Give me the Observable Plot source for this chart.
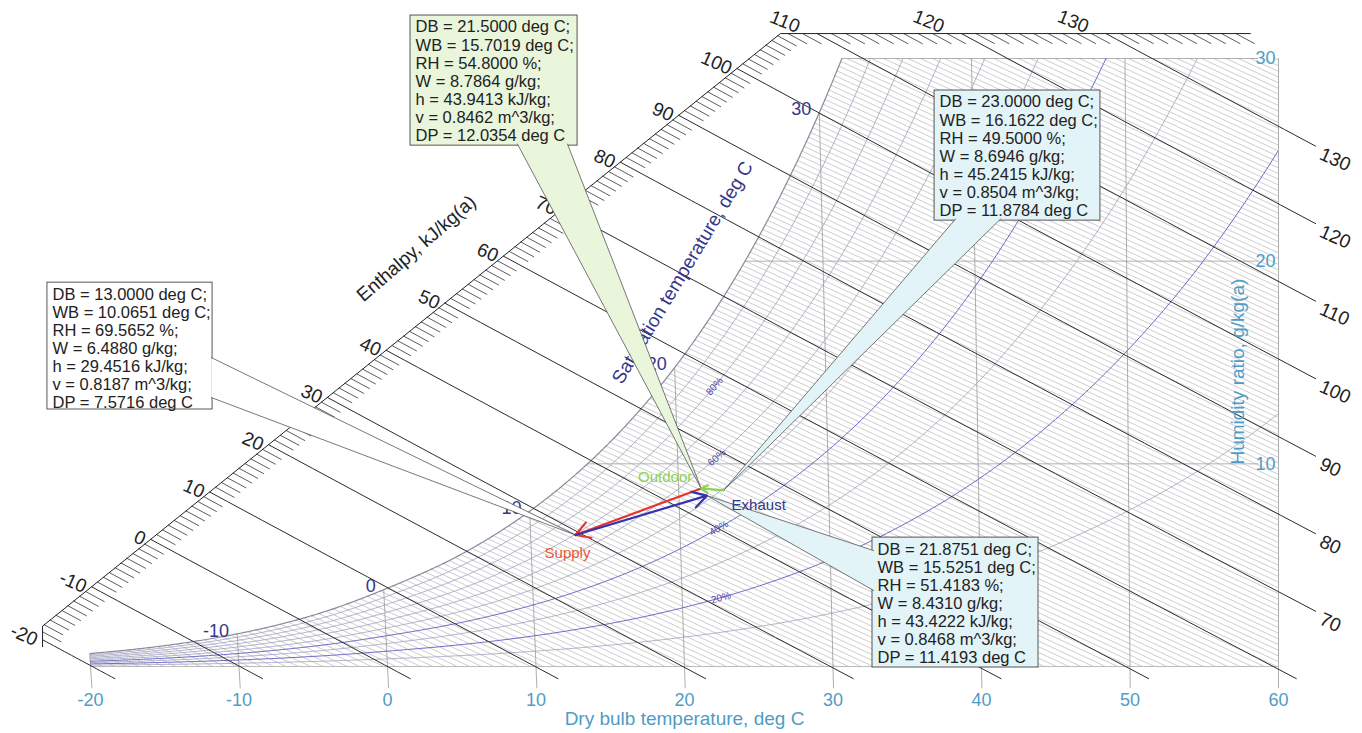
<!DOCTYPE html>
<html><head><meta charset="utf-8">
<script src="https://cdn.jsdelivr.net/npm/d3@7"></script>
<script src="https://cdn.jsdelivr.net/npm/@observablehq/plot@0.6"></script>
<style>html,body{margin:0;padding:0;background:#fff;} #chart svg{display:block}</style>
</head><body><div id="chart"></div>
<script>
// ---------------- data ----------------
const dryBulbTicks = [-20, -10, 0, 10, 20, 30, 40, 50, 60];
const humidityTicks = [10, 20, 30];
const satTemp = [-20, -15, -10, -5, 0, 5, 10, 15, 20, 25, 30, 35, 40, 45, 50, 55, 60];
const satW = [0.64, 1.02, 1.61, 2.49, 3.79, 5.42, 7.66, 10.69, 14.75, 20.17, 27.33, 36.79, 49.14, 65.44, 86.63, 114.53, 152.3];
const satLabelTemps = [-10, 0, 10, 20, 30];
const rhLevels = [10, 20, 30, 40, 50, 60, 70, 80, 90];
const rhLabelLevels = [20, 40, 60, 80];
const enthalpyLines = [-20, -10, 0, 10, 20, 30, 40, 50, 60, 70, 80, 90, 100, 110, 120, 130];
const enthalpyScaleRange = [-20, 140];

const stateNames = ["Outdoor", "Exhaust", "Supply", ""];
const stateDB = [21.5, 23.0, 13.0, 21.8751];
const stateWB = [15.7019, 16.1622, 10.0651, 15.5251];
const stateRH = [54.8, 49.5, 69.5652, 51.4183];
const stateW = [8.7864, 8.6946, 6.4880, 8.4310];
const stateH = [43.9413, 45.2415, 29.4516, 43.4222];
const stateV = [0.8462, 0.8504, 0.8187, 0.8468];
const stateDP = [12.0354, 11.8784, 7.5716, 11.4193];
const processFrom = [0, 2, 1];
const processTo = [2, 3, 0];

// ---------------- chart geometry helpers ----------------
const SKEW = 1 / 891;
const toX = (T, W) => T - W * (60 - T) * SKEW;
const toT = (X, W) => (X + 60 * W * SKEW) / (1 + W * SKEW);
const enth = (T, W) => 1.006 * T + W * (2.501 + 0.00186 * T);
const wAtH = (h, T) => (h - 1.006 * T) / (2.501 + 0.00186 * T);
const lnW = satW.map(Math.log);
function wsat(T) {
  const n = satTemp.length;
  let i = d3.bisectRight(satTemp, T) - 1;
  i = Math.max(0, Math.min(n - 2, i));
  const t0 = satTemp[i], t1 = satTemp[i + 1], dt = t1 - t0, s = (T - t0) / dt;
  const m = k => k <= 0 ? (lnW[1] - lnW[0]) / (satTemp[1] - satTemp[0])
    : k >= n - 1 ? (lnW[n - 1] - lnW[n - 2]) / (satTemp[n - 1] - satTemp[n - 2])
    : (lnW[k + 1] - lnW[k - 1]) / (satTemp[k + 1] - satTemp[k - 1]);
  const h00 = 2 * s ** 3 - 3 * s ** 2 + 1, h10 = s ** 3 - 2 * s ** 2 + s, h01 = -2 * s ** 3 + 3 * s ** 2, h11 = s ** 3 - s ** 2;
  return Math.exp(h00 * lnW[i] + h10 * dt * m(i) + h01 * lnW[i + 1] + h11 * dt * m(i + 1));
}
const wAtRH = (T, rh) => { const ws = wsat(T); const x = ws / (622 + ws); return 622 * (rh / 100) * x / (1 - (rh / 100) * x); };
const bisect = (f, a, b, n = 60) => { for (let k = 0; k < n; k++) { const m = (a + b) / 2; if (f(m) < 0) a = m; else b = m; } return (a + b) / 2; };
const tSatOfW = W => bisect(T => wsat(T) - W, -40, 80);

const teal = "#4f9cc6", navy = "#35358a", FONT = "'Liberation Sans', Arial, sans-serif";

// saturation curve
const satPts = d3.range(-20, 33.01, 0.1).map(T => ({x: toX(T, wsat(T)), y: wsat(T)}));
// RH curves
const rhPts = rhLevels.flatMap(rh => d3.range(-20, 60.01, 0.2).map(T => ({x: toX(T, wAtRH(T, rh)), y: wAtRH(T, rh), rh})));
const rhLabels = rhLabelLevels.map(rh => {
  const T = 22.6, W = wAtRH(T, rh), W1 = wAtRH(T - 0.3, rh), W2 = wAtRH(T + 0.3, rh);
  const dx = (toX(T + 0.3, W2) - toX(T - 0.3, W1)) * 14.85, dy = -(W2 - W1) * 20.27;
  return {x: toX(T, W), y: W, rh, angle: Math.atan2(dy, dx) * 180 / Math.PI};
});
// background hatch texture
const hatch = d3.range(0.28, 60, 0.28).flatMap((c, i) => [{x: -20, y: c, id: i}, {x: 60, y: c - 0.34 * 80, id: i}]);
// dry bulb lines
const dbLines = dryBulbTicks.flatMap(T => { const top = Math.min(wsat(T), 30); return [{x: toX(T, -1.05), y: -1.05, T}, {x: toX(T, top), y: top, T}]; });
// humidity lines
const wLines = humidityTicks.flatMap(W => [{x: toX(tSatOfW(W), W), y: W, W}, {x: 58.6, y: W, W}]);

// enthalpy scale
const scalePoly = [[-23.23, 0.98], [-23.23, 1.99], [26.46, 31.23], [62, 31.23]];
function polyPt(u) { const i = Math.min(scalePoly.length - 2, Math.floor(u)); const f = u - i; const a = scalePoly[i], b = scalePoly[i + 1]; return [a[0] + (b[0] - a[0]) * f, a[1] + (b[1] - a[1]) * f]; }
const hOnPoly = u => { const [X, W] = polyPt(u); return enth(toT(X, W), W); };
const uForH = h => bisect(u => hOnPoly(u) - h, 0, scalePoly.length - 1);
const uEnd = uForH(enthalpyScaleRange[1]);
const scaleLine = scalePoly.filter((p, i) => i <= uEnd).map(p => ({x: p[0], y: p[1]}));
{ const [X, W] = polyPt(uEnd); scaleLine.push({x: X, y: W}); }

const hLineData = enthalpyLines.map(h => {
  const u = uForH(h); const [X0, W0] = polyPt(u); const T0 = toT(X0, W0);
  const g = T => { const W = wAtH(h, T); return Math.max(-0.6 - W, toX(T, W) - 62.5); };
  const T1 = bisect(g, T0, 140);
  const pts = d3.range(0, 21).map(k => { const T = T0 + (T1 - T0) * k / 20; const W = wAtH(h, T); return {x: toX(T, W), y: W, h}; });
  const end = pts[pts.length - 1];
  return {h, u, start: {x: X0, y: W0}, pts, end, right: end.x > 62.4};
});
const hLinePts = hLineData.flatMap(d => d.pts);
const hTicks = d3.range(enthalpyScaleRange[0] + 1, enthalpyScaleRange[1]).filter(h => !enthalpyLines.includes(h)).flatMap(h => {
  const u = uForH(h); const [X0, W0] = polyPt(u); const T0 = toT(X0, W0), T1 = T0 + 1.2, W1 = wAtH(h, T1);
  return [{x: X0, y: W0, h}, {x: toX(T1, W1), y: W1, h}];
});

// states
const states = stateDB.map((T, i) => ({i, name: stateNames[i], x: toX(T, stateW[i]), y: stateW[i]}));
const stateText = i => [
  `DB = ${stateDB[i].toFixed(4)} deg C;`, `WB = ${stateWB[i].toFixed(4)} deg C;`, `RH = ${stateRH[i].toFixed(4)} %;`,
  `W = ${stateW[i].toFixed(4)} g/kg;`, `h = ${stateH[i].toFixed(4)} kJ/kg;`, `v = ${stateV[i].toFixed(4)} m^3/kg;`, `DP = ${stateDP[i].toFixed(4)} deg C`
].join("\n");

// callout layout (data coordinates)
const callouts = [
  {state: 0, box: [1.55, 12.80, 32.12, 25.70], fill: "#eaf6dc", base: [[8.75, 25.78], [12.12, 25.78]]},
  {state: 1, box: [36.84, 48.01, 28.42, 22.00], fill: "#e2f4f8", base: [[38.25, 22.08], [41.28, 22.08]]},
  {state: 2, box: [-22.90, -11.78, 18.94, 12.68], fill: "#ffffff", base: [[-11.86, 15.24], [-11.86, 13.27]]},
  {state: 3, box: [32.66, 43.84, 6.36, -0.05], fill: "#e2f4f8", base: [[32.74, 5.72], [32.74, 3.75]]}
];
const labelOffsets = [[-36, -11], [35, 15], [-8, 18], [0, 0]];
const arrowColors = ["#e8322a", "#3434b0", "#8fd14f"];

const marks = [
  Plot.line(hatch, {x: "x", y: "y", z: "id", stroke: "#b4b4b4", strokeWidth: 0.65, clip: true}),
  Plot.areaY(satPts, {x: "x", y1: "y", y2: 33, fill: "white", clip: true}),
  Plot.line([{x: -20, y: 0}, {x: 60, y: 0}], {x: "x", y: "y", stroke: "#aaaaaa", strokeWidth: 0.8}),
  Plot.line(wLines, {x: "x", y: "y", z: "W", stroke: "#a0a0a0", strokeWidth: 0.8, strokeDasharray: d => d.W === 30 ? null : "5,2"}),
  Plot.line(dbLines, {x: "x", y: "y", z: "T", stroke: "#999999", strokeWidth: 0.8}),
  Plot.line(rhPts, {x: "x", y: "y", z: "rh", stroke: d => (d.rh === 20 || d.rh === 40) ? "#6a6ac8" : "#a0a0c0", strokeWidth: d => (d.rh === 20 || d.rh === 40) ? 1 : 0.8, clip: true}),
  Plot.line(satPts, {x: "x", y: "y", stroke: "#8a8a9e", strokeWidth: 1.2, clip: true}),
  Plot.line(hTicks, {x: "x", y: "y", z: "h", stroke: "#333", strokeWidth: 0.8}),
  Plot.line(scaleLine, {x: "x", y: "y", stroke: "#222", strokeWidth: 1}),
  Plot.line(hLinePts, {x: "x", y: "y", z: "h", stroke: "#2a2a2a", strokeWidth: 1}),
  // enthalpy labels on the scale
  Plot.text(hLineData.filter(d => d.u < 2), {x: d => d.start.x, y: d => d.start.y, text: d => String(d.h), textAnchor: "end", rotate: 24, dx: -6, dy: 1, fontSize: 19, fill: "#222"}),
  Plot.text(hLineData.filter(d => d.u >= 2), {x: d => d.start.x, y: d => d.start.y, text: d => String(d.h), textAnchor: "end", rotate: 22, dx: -18, dy: -6, fontSize: 19, fill: "#222"}),
  Plot.text(hLineData.filter(d => d.right), {x: d => d.end.x, y: d => d.end.y, text: d => String(d.h), textAnchor: "start", rotate: 24, dx: 5, dy: 7, fontSize: 19, fill: "#222"}),
  // saturation temperature labels
  Plot.text(satLabelTemps, {x: T => toX(T, wsat(T)), y: T => wsat(T), text: T => String(T), textAnchor: "end", dx: -8, dy: -3, fontSize: 18, fill: navy}),
  Plot.text(rhLabels, {x: "x", y: "y", text: d => d.rh + "%", rotate: "angle", fontSize: 10, fill: "#4a4aaa"}),
  // axes
  Plot.text(dryBulbTicks, {x: T => T, y: -1.68, text: T => String(T), fontSize: 18, fill: teal}),
  Plot.text(["Dry bulb temperature, deg C"], {x: 20, y: -2.61, text: d => d, fontSize: 19, fill: teal}),
  Plot.text(humidityTicks, {x: 60, y: W => W, text: W => String(W), textAnchor: "end", dx: -3, fontSize: 18, fill: teal}),
  Plot.text(["Humidity ratio, g/kg(a)"], {x: 57.3, y: 14.55, text: d => d, rotate: -90, fontSize: 19, fill: teal}),
  Plot.text(["Enthalpy, kJ/kg(a)"], {x: 1.95, y: 20.62, text: d => d, rotate: -41, fontSize: 19, fill: "#222"}),
  Plot.text(["Saturation temperature, deg C"], {x: 19.87, y: 19.44, text: d => d, rotate: -59, fontSize: 19, fill: navy})
];

// callouts
for (const c of callouts) {
  const s = states[c.state];
  marks.push(Plot.rect([c], {x1: d => d.box[0], x2: d => d.box[1], y1: d => d.box[3], y2: d => d.box[2], fill: c.fill, stroke: "#555", strokeWidth: 1}));
  const poly = [{x: c.base[0][0], y: c.base[0][1]}, {x: s.x, y: s.y}, {x: c.base[1][0], y: c.base[1][1]}];
  marks.push(Plot.line(poly, {x: "x", y: "y", fill: c.fill, stroke: "#555", strokeWidth: 0.8, strokeLinejoin: "miter"}));
  marks.push(Plot.text([c], {x: d => d.box[0] + 0.34, y: d => d.box[2] - 0.2, text: d => stateText(d.state), textAnchor: "start", lineAnchor: "top", lineHeight: 1.1, fontSize: 16.5, fill: "#222"}));
}
// process arrows and state labels
marks.push(Plot.arrow(processFrom.map((f, k) => ({a: states[f], b: states[processTo[k]], color: arrowColors[k]})), {
  x1: d => d.a.x, y1: d => d.a.y, x2: d => d.b.x, y2: d => d.b.y, stroke: d => d.color, strokeWidth: 2.2, headLength: 11
}));
const labColors = ["#8fd14f", navy, "#e8573a"];
states.filter(s => s.name).forEach(s => {
  marks.push(Plot.text([s], {x: "x", y: "y", text: "name", dx: labelOffsets[s.i][0], dy: labelOffsets[s.i][1], fontSize: 15, fill: labColors[s.i]}));
});

const chart = Plot.plot({
  width: 1362, height: 733,
  marginLeft: 90, marginRight: 84, marginTop: 58, marginBottom: 67,
  x: {domain: [-20, 60], axis: null},
  y: {domain: [0, 30], axis: null},
  color: {type: "identity"},
  style: {fontFamily: FONT, background: "white", overflow: "visible"},
  marks
});
document.getElementById("chart").appendChild(chart);
</script>
</body></html>
